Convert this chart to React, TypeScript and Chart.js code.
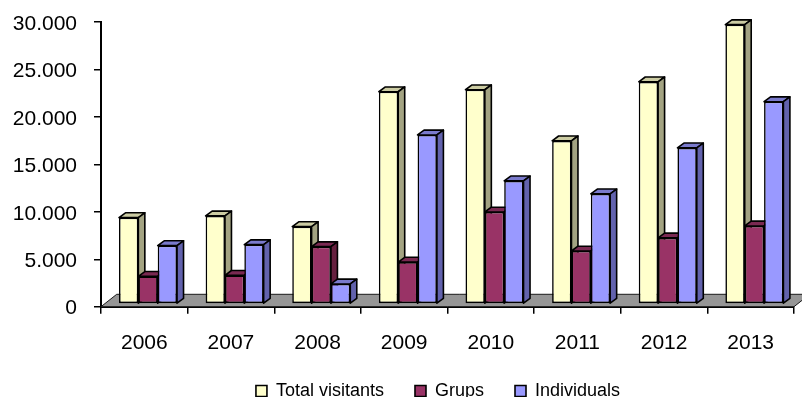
import React, { useEffect, useRef } from "react";
import { Chart, registerables } from "chart.js";

Chart.register(...registerables);

const years = ["2006", "2007", "2008", "2009", "2010", "2011", "2012", "2013"];
const totalVisitants = [9390, 9570, 8440, 22650, 22860, 17480, 23700, 29720];
const grups = [3200, 3310, 6330, 4700, 9980, 5870, 7250, 8510];
const individuals = [6440, 6540, 2395, 18100, 13260, 11890, 16740, 21600];
const BASE_VALUE = 370;
const FONT = '"Liberation Sans", Arial, sans-serif';

const topColors = ["#CCCCA3", "#7A2952", "#7A7ACC"];
const sideColors = ["#A3A382", "#66203F", "#6262AD"];

const threeD = {
  id: "threeD",
  beforeDatasetsDraw(chart: any) {
    const { ctx, chartArea: a } = chart;
    ctx.save();
    ctx.beginPath();
    ctx.moveTo(a.left, a.bottom);
    ctx.lineTo(a.left + 15.7, a.bottom - 12.4);
    ctx.lineTo(a.right + 15.7, a.bottom - 12.4);
    ctx.lineTo(a.right, a.bottom);
    ctx.closePath();
    ctx.fillStyle = "#969696";
    ctx.strokeStyle = "#1a1a1a";
    ctx.lineWidth = 1;
    ctx.fill();
    ctx.stroke();
    const dx = 6.5;
    const dy = 4.8;
    ctx.translate(3.7, 0);
    ctx.lineWidth = 1.6;
    ctx.strokeStyle = "#000";
    ctx.lineJoin = "round";
    [0, 1, 2].forEach((i) => {
      for (const el of chart.getDatasetMeta(i).data as any[]) {
        const l = el.x - el.width / 2;
        const r = el.x + el.width / 2;
        const t = el.y;
        const b = el.base;
        ctx.beginPath();
        ctx.moveTo(l, t);
        ctx.lineTo(l + dx, t - dy);
        ctx.lineTo(r + dx, t - dy);
        ctx.lineTo(r, t);
        ctx.closePath();
        ctx.fillStyle = topColors[i];
        ctx.fill();
        ctx.stroke();
        ctx.beginPath();
        ctx.moveTo(r, t);
        ctx.lineTo(r + dx, t - dy);
        ctx.lineTo(r + dx, b - dy);
        ctx.lineTo(r, b);
        ctx.closePath();
        ctx.fillStyle = sideColors[i];
        ctx.fill();
        ctx.stroke();
      }
    });
    ctx.restore();
  },
  beforeDatasetDraw(chart: any) {
    chart.ctx.save();
    chart.ctx.translate(3.7, 0);
  },
  afterDatasetDraw(chart: any) {
    chart.ctx.restore();
  },
  afterLayout(chart: any) {
    const lg = chart.legend;
    const h = lg.bottom - lg.top;
    lg.top = 351;
    lg.bottom = lg.top + h;
    lg.left += 41;
    lg.right += 41;
    const x = chart.scales.x;
    x.bottom = 376;
    x.height = x.bottom - x.top;
    const y = chart.scales.y;
    y.top = 22;
    y.height = y.bottom - y.top;
    y.configure();
    chart.chartArea.top = 22;
    chart.chartArea.height = chart.chartArea.bottom - 22;
  },
};

export default function App() {
  const ref = useRef<HTMLCanvasElement>(null);
  useEffect(() => {
    const bar = (label: string, data: number[], color: string) => ({
      label,
      data,
      base: BASE_VALUE,
      backgroundColor: color,
      borderColor: "#000",
      borderWidth: 1.6,
      borderSkipped: false,
      categoryPercentage: 0.67,
      barPercentage: 1,
      clip: false as any,
    });
    const chart = new Chart(ref.current!, {
      type: "bar",
      data: {
        labels: years,
        datasets: [
          bar("Total visitants", totalVisitants, "#FFFFCC"),
          bar("Grups", grups, "#993366"),
          bar("Individuals", individuals, "#9999FF"),
        ],
      },
      options: {
        responsive: false,
        animation: false,
        layout: { padding: { left: 0, right: 8, top: 15, bottom: 0 } },
        plugins: {
          tooltip: { enabled: false },
          title: { display: false },
          legend: {
            position: "bottom",
            labels: {
              boxWidth: 11,
              boxHeight: 11,
              padding: 31,
              color: "#000",
              font: { family: FONT, size: 18 },
            },
          },
        },
        scales: {
          x: {
            grid: {
              drawOnChartArea: false,
              color: "#000",
              lineWidth: 1.5,
              tickLength: 7,
              offset: true,
            },
            border: { color: "#000", width: 2 },
            ticks: {
              color: "#000",
              padding: 17,
              maxRotation: 0,
              font: { family: FONT, size: 21 },
            },
            afterFit(s: any) {
              s.height = 397 - 306.7 - s.chart.legend.height;
            },
          },
          y: {
            min: 0,
            max: 30000,
            grid: {
              drawOnChartArea: false,
              color: "#000",
              lineWidth: 1.5,
              tickLength: 7,
            },
            border: { color: "#000", width: 2 },
            ticks: {
              stepSize: 5000,
              color: "#000",
              padding: 17,
              labelOffset: 2,
              font: { family: FONT, size: 21 },
              callback: (v: any) => (v === 0 ? "0" : Number(v).toLocaleString("de-DE")),
            },
            afterFit(s: any) {
              s.width = 101;
            },
          },
        },
      },
      plugins: [threeD],
    } as any);
    return () => chart.destroy();
  }, []);
  return (
    <div style={{ position: "absolute", left: 0, top: 0, width: 802, height: 397 }}>
      <canvas ref={ref} width={802} height={397} style={{ display: "block" }} />
    </div>
  );
}
